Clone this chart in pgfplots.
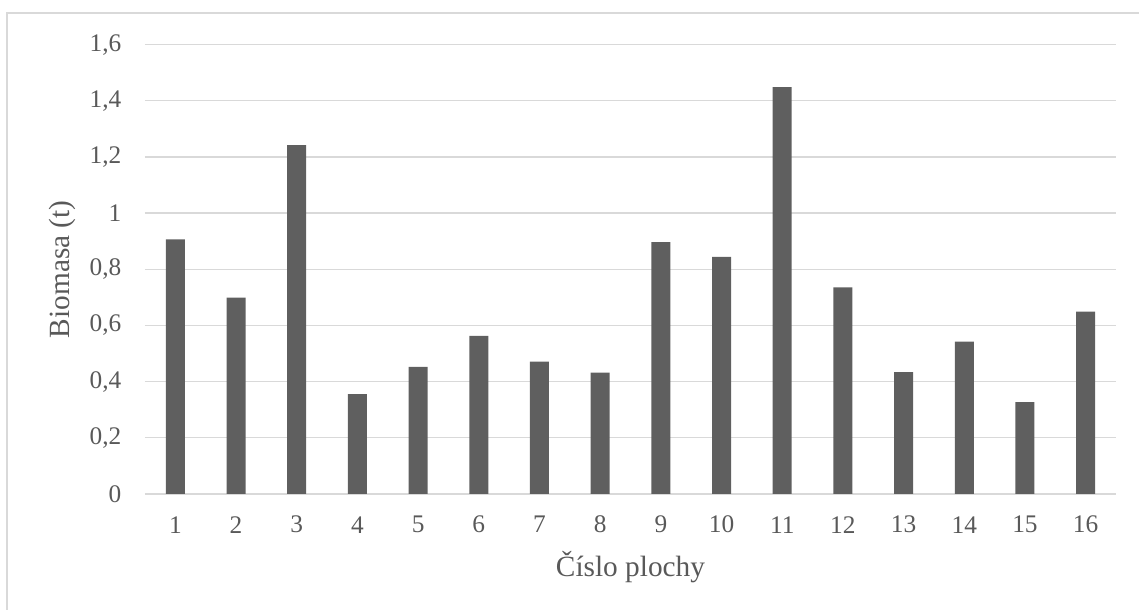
\documentclass[border=0pt]{standalone}
\usepackage{pgfplots}
\pgfplotsset{compat=1.18}
\usepackage{fontspec}
\setmainfont{Liberation Serif}
\definecolor{barc}{HTML}{5F5F5F}
\definecolor{gridc}{HTML}{D9D9D9}
\definecolor{txt}{HTML}{595959}
\begin{document}
\begin{tikzpicture}[x=1pt,y=1pt]
\path[use as bounding box] (-108.75,-87) rectangle (745.5,370.5);
\draw[gridc, line width=1.2pt] (-103.5,-90) -- (-103.5,360.75) -- (750,360.75);
\begin{axis}[
  at={(0,0)}, anchor=south west,
  scale only axis, width=728.25pt, height=337pt,
  xmin=0.5, xmax=16.5, ymin=0, ymax=1.6,
  xtick={1,...,16}, ytick={0,0.2,0.4,0.6,0.8,1,1.2,1.4,1.6},
  axis line style={draw=none},
  major tick length=0pt,
  ymajorgrids, grid style={gridc, line width=1pt},
  ybar, bar width=14.25pt,
  /pgf/number format/.cd, use comma, fixed, assume math mode=true,
  /pgfplots/.cd,
  tick label style={font=\fontsize{19}{19}\selectfont, text=txt},
  xticklabel style={anchor=center, inner sep=0pt, yshift=-23pt},
  yticklabel style={anchor=east, inner sep=0pt, xshift=-17.5pt},
  xlabel={Číslo plochy}, ylabel={Biomasa (t)},
  label style={font=\fontsize{22}{22}\selectfont, text=txt},
  xlabel style={at={(axis description cs:0.5,0)}, anchor=center, yshift=-55pt},
  ylabel style={at={(axis description cs:-0.0845,0.5)}, anchor=center},
]
\addplot[fill=barc, draw=none] coordinates {
(1,0.907) (2,0.699) (3,1.242) (4,0.356) (5,0.453) (6,0.563) (7,0.471) (8,0.432)
(9,0.897) (10,0.844) (11,1.449) (12,0.736) (13,0.434) (14,0.543) (15,0.327) (16,0.649)
};
\end{axis}
\end{tikzpicture}
\end{document}
